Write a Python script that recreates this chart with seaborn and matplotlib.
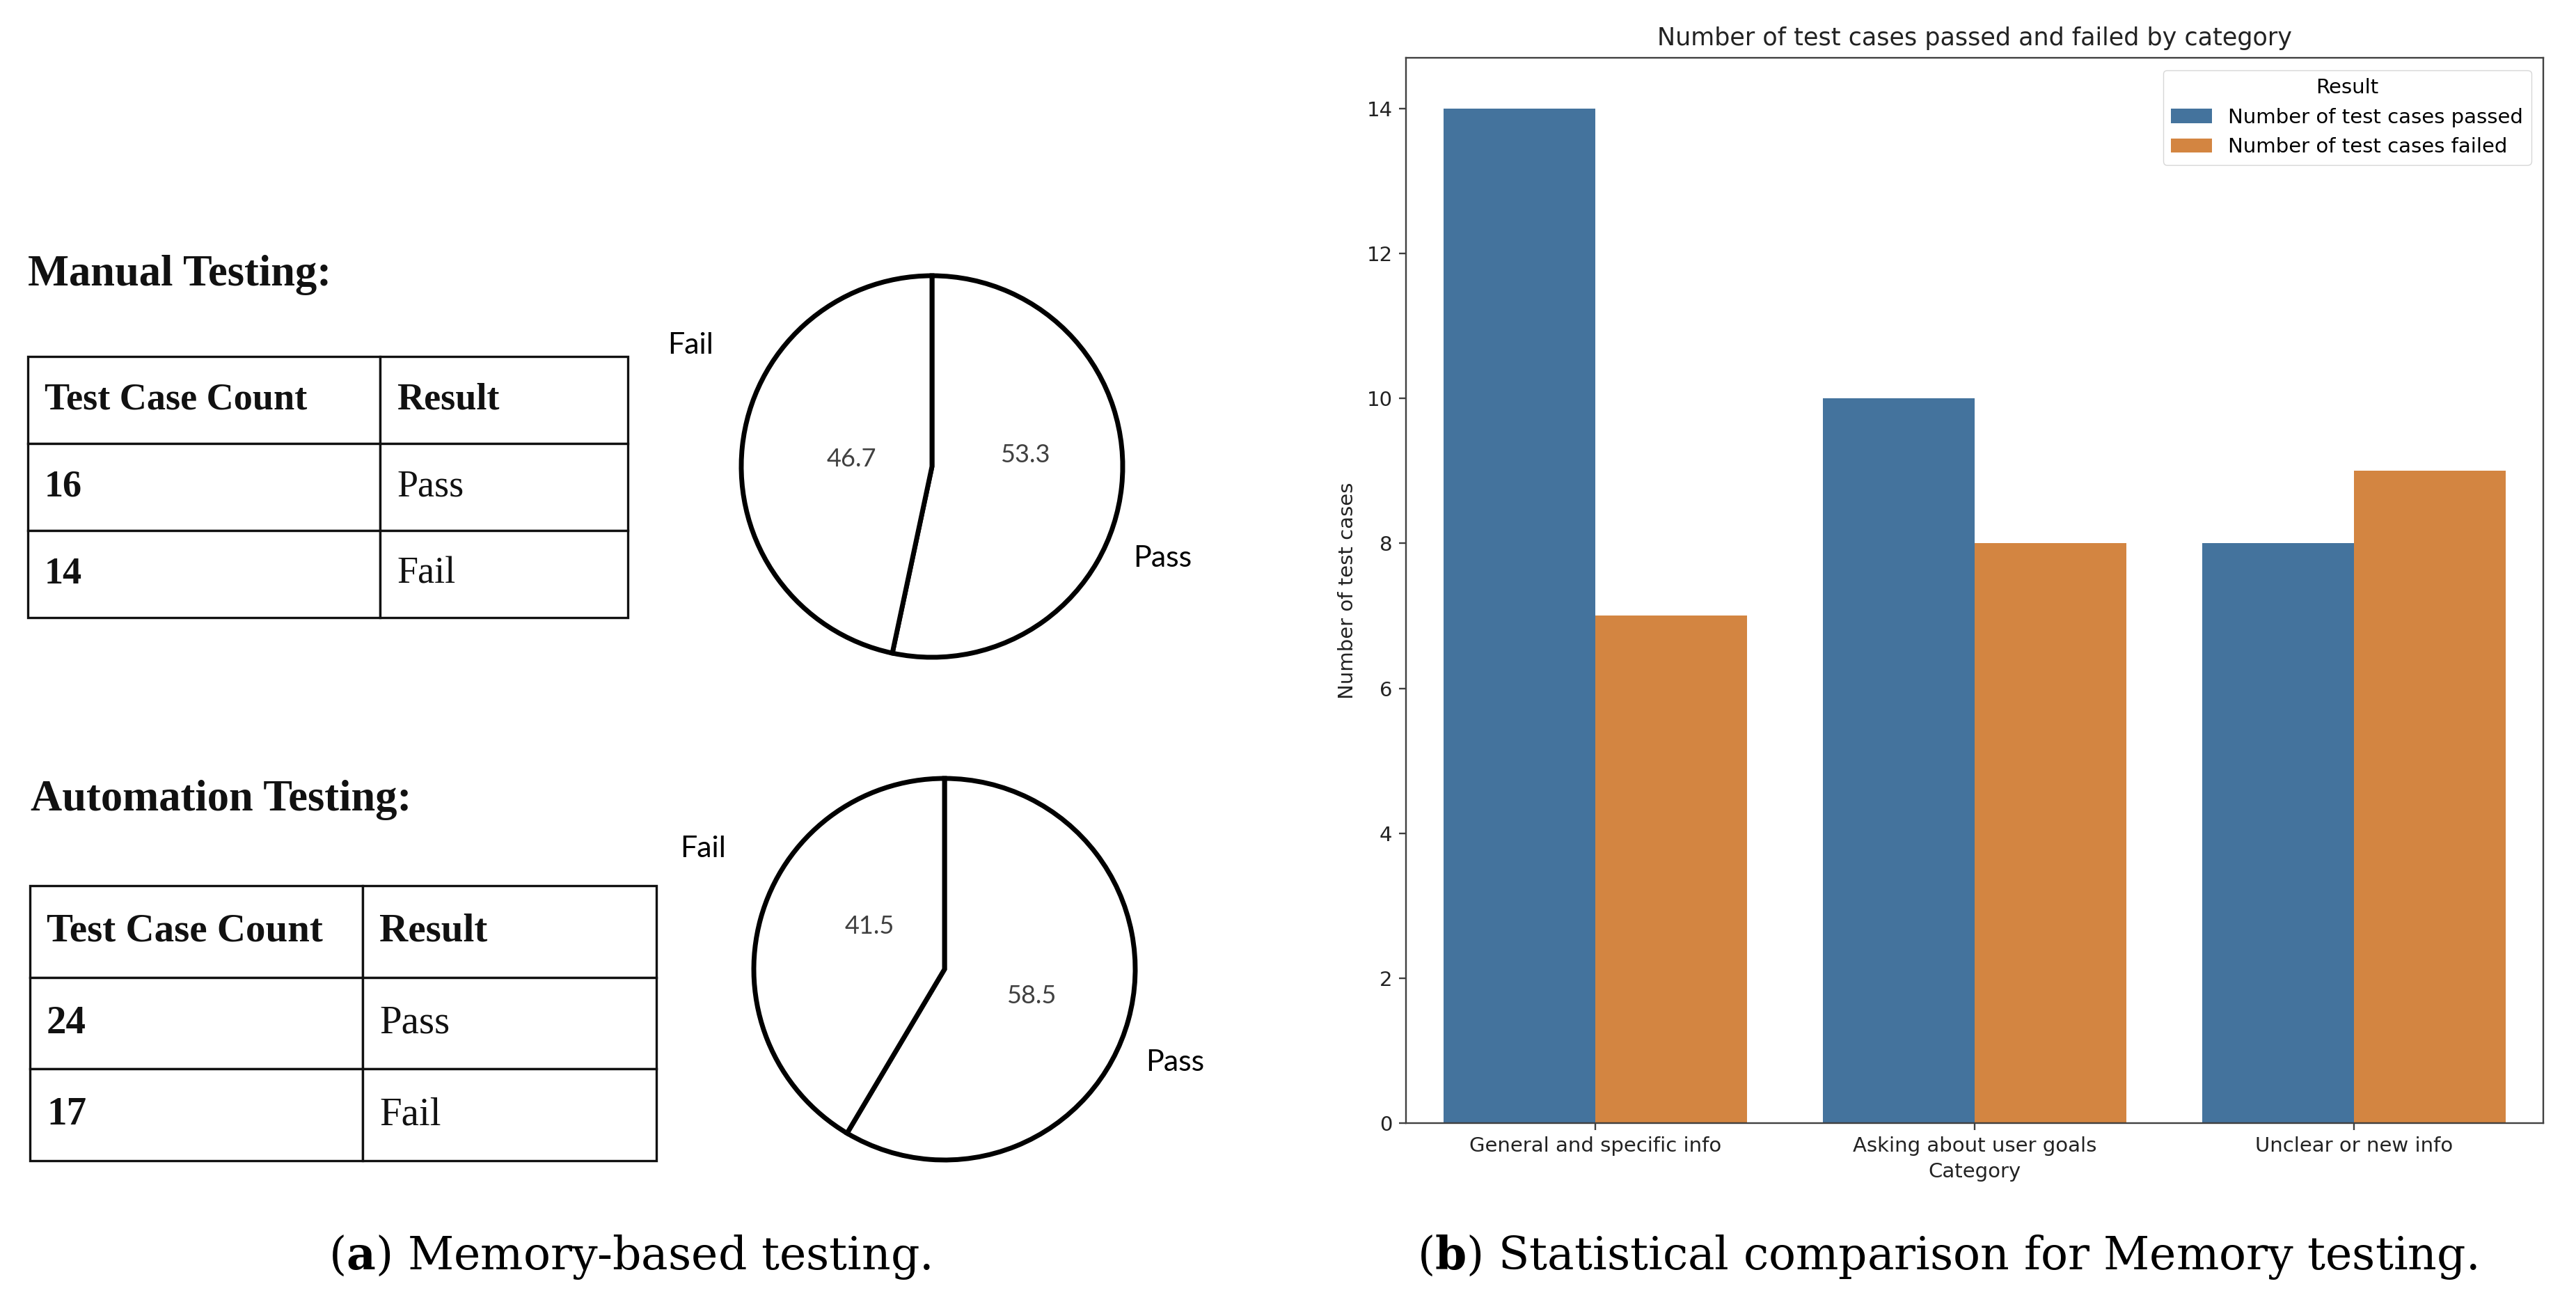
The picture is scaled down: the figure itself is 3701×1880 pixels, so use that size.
import numpy as np
import pandas as pd
import matplotlib
matplotlib.use("Agg")
import matplotlib.pyplot as plt
import seaborn as sns

# ---------------- data ----------------
categories = ["General and specific info", "Asking about user goals", "Unclear or new info"]
passed_counts = [14, 10, 8]
failed_counts = [7, 8, 9]
result_names = ["Number of test cases passed", "Number of test cases failed"]
y_ticks = [0, 2, 4, 6, 8, 10, 12, 14]

table_header = ["Test Case Count", "Result"]
manual_counts = [16, 14]
manual_results = ["Pass", "Fail"]
auto_counts = [24, 17]
auto_results = ["Pass", "Fail"]
pie_labels = ["Pass", "Fail"]

bar_colors = ["#44739d", "#d38541"]

# ---------------- figure ----------------
W, H = 3701, 1880
plt.rcParams.update({
    "font.family": ["DejaVu Sans"],
    "mathtext.fontset": "dejavuserif",
    "axes.linewidth": 1.7,
    "axes.edgecolor": "#404040",
    "xtick.major.size": 7,
    "ytick.major.size": 7,
    "xtick.major.width": 1.7,
    "ytick.major.width": 1.7,
    "xtick.major.pad": 7,
    "ytick.major.pad": 7,
    "xtick.color": "#404040",
    "ytick.color": "#404040",
    "xtick.labelcolor": "#222222",
    "ytick.labelcolor": "#222222",
})
fig = plt.figure(figsize=(W / 100, H / 100), dpi=100)


def px_axes(x0, y0, x1, y1):
    return fig.add_axes([x0 / W, 1 - y1 / H, (x1 - x0) / W, (y1 - y0) / H])


def ftext(x, y, s, **kw):
    return fig.text(x / W, 1 - y / H, s, **kw)


serif = ["Liberation Serif", "DejaVu Serif"]


# ---------------- tables ----------------
def draw_table(box, col_px, counts, results, fs_head, fs_body):
    ax = px_axes(*box)
    ax.axis("off")
    rows = [[str(c), r] for c, r in zip(counts, results)]
    total = box[2] - box[0]
    tbl = ax.table(cellText=rows, colLabels=table_header, cellLoc="left",
                   colLoc="left",
                   colWidths=[col_px[0] / total, col_px[1] / total],
                   bbox=[0, 0, 1, 1])
    tbl.auto_set_font_size(False)
    for (r, c), cell in tbl.get_celld().items():
        cell.set_linewidth(2.4)
        cell.set_edgecolor("#111111")
        cell.PAD = 24 / col_px[c]
        txt = cell.get_text()
        txt.set_fontfamily(serif)
        txt.set_color("#111111")
        if r == 0:
            txt.set_fontsize(fs_head)
            txt.set_fontweight("bold")
        else:
            txt.set_fontsize(fs_body)
            txt.set_fontweight("bold" if c == 0 else "normal")
    return tbl


draw_table((40, 512, 902, 887), (506, 356), manual_counts, manual_results, 39, 39)
draw_table((43, 1272, 943, 1667), (478, 422), auto_counts, auto_results, 41, 41)

ftext(40, 410, "Manual Testing:", fontfamily=serif, fontweight="bold",
      fontsize=45, va="baseline", ha="left", color="#111111")
ftext(44, 1164, "Automation Testing:", fontfamily=serif, fontweight="bold",
      fontsize=45, va="baseline", ha="left", color="#111111")


# ---------------- pies ----------------
def draw_pie(cx, cy, r, counts, lab_pos, pct_pos):
    ax = px_axes(cx - r, cy - r, cx + r, cy + r)
    wedges, texts, autotexts = ax.pie(
        counts, labels=pie_labels, startangle=90, counterclock=False,
        autopct="%.1f", radius=1,
        wedgeprops=dict(facecolor="white", edgecolor="black", linewidth=5),
        textprops=dict(fontfamily=["Lato", "DejaVu Sans"]))
    ax.set_xlim(-1, 1)
    ax.set_ylim(-1, 1)
    ax.set_aspect("equal")
    for w in wedges:
        w.set_clip_on(False)
    for t, p in zip(texts, lab_pos):
        t.set_position(p)
        t.set_ha("center")
        t.set_va("center")
        t.set_fontsize(31)
        t.set_color("black")
    for t, p in zip(autotexts, pct_pos):
        t.set_position(p)
        t.set_fontsize(26)
        t.set_color("#404040")
    return ax


draw_pie(1339, 670, 274, manual_counts,
         [(1.208, -0.482), (-1.266, 0.635)],
         [(0.489, 0.062), (-0.423, 0.04)])
draw_pie(1357, 1392, 274, auto_counts,
         [(1.208, -0.489), (-1.266, 0.631)],
         [(0.456, -0.139), (-0.394, 0.226)])

# ---------------- bar chart ----------------
df = pd.DataFrame({
    "Category": categories * 2,
    "Number of test cases": passed_counts + failed_counts,
    "Result": [result_names[0]] * len(categories) + [result_names[1]] * len(categories),
})
axb = px_axes(2020, 83, 3654, 1613)
sns.barplot(data=df, x="Category", y="Number of test cases", hue="Result",
            order=categories, hue_order=result_names, palette=bar_colors,
            saturation=1, ax=axb)
axb.set_yticks(y_ticks)
axb.tick_params(labelsize=21)
axb.set_xlabel("Category", fontsize=21, color="#222222", labelpad=6)
axb.set_ylabel("Number of test cases", fontsize=21, color="#222222", labelpad=10)
axb.set_title("Number of test cases passed and failed by category",
              fontsize=25.2, color="#222222", pad=13)
axb.legend(title="Result", loc="upper right", fontsize=21, title_fontsize=21,
           borderaxespad=0.6)

# ---------------- captions ----------------
renderer = fig.canvas.get_renderer()


def caption(cx, cy, s, target_w):
    t = ftext(cx, cy, s, fontfamily=["DejaVu Serif"], fontsize=40,
              ha="center", va="center", color="black")
    bb = t.get_window_extent(renderer)
    t.set_fontsize(40 * target_w / bb.width)
    return t


caption(905, 1805, r"($\mathbf{a}$) Memory-based testing.", 865)
caption(2797, 1805, r"($\mathbf{b}$) Statistical comparison for Memory testing.", 1521)

fig.savefig("out.png", dpi=100, facecolor="white")
